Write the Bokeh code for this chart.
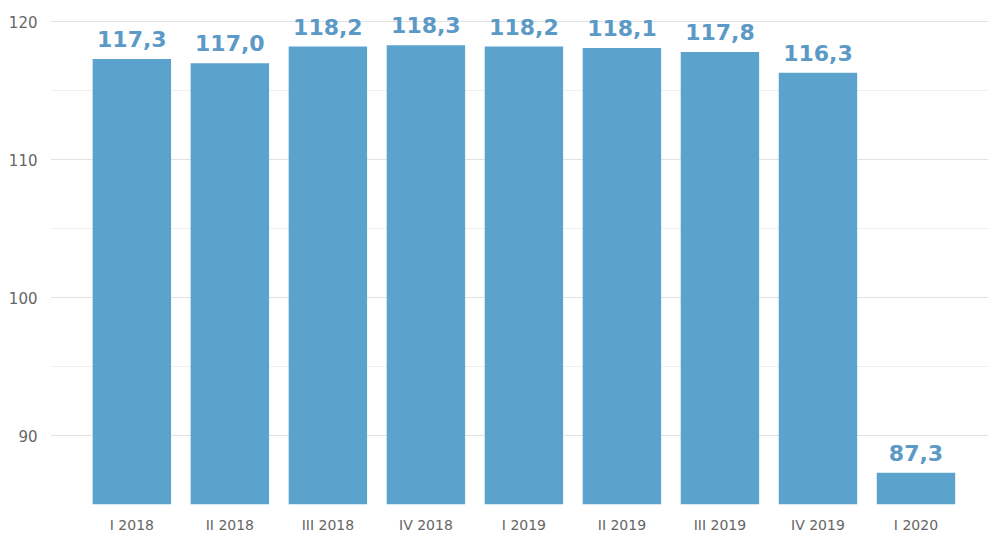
from bokeh.plotting import figure
from bokeh.models import ColumnDataSource, Range1d, FixedTicker, LabelSet
from bokeh.embed import file_html
from bokeh.resources import INLINE
from bokeh.core.properties import value

categories = ["I 2018", "II 2018", "III 2018", "IV 2018", "I 2019", "II 2019", "III 2019", "IV 2019", "I 2020"]
values = [117.3, 117.0, 118.2, 118.3, 118.2, 118.1, 117.8, 116.3, 87.3]
y_major_ticks = [90, 100, 110, 120]
y_minor_ticks = [85, 95, 105, 115]

xs = list(range(len(categories)))
labels = [f"{v:.1f}".replace(".", ",") for v in values]
src = ColumnDataSource(dict(x=xs, top=values, label=labels))

p = figure(width=988, height=535, output_backend="svg", toolbar_location=None,
           x_range=Range1d(-0.83, 8.74), y_range=Range1d(85, 120.6),
           min_border_left=50, min_border_right=0, min_border_top=13, min_border_bottom=31)
p.outline_line_color = None
p.background_fill_color = "white"
p.border_fill_color = "white"

p.xgrid.grid_line_color = None
p.yaxis.ticker = FixedTicker(ticks=y_major_ticks, minor_ticks=y_minor_ticks)
p.ygrid.grid_line_color = "#e2e2e2"
p.ygrid.minor_grid_line_color = "#efefef"

p.vbar(x="x", top="top", bottom=84, width=0.8, source=src, fill_color="#5ba3cc", line_color=None)

lbl = LabelSet(x="x", y="top", text="label", source=src, text_align="center", text_baseline="alphabetic",
               y_offset=12, text_font=value("DejaVu Sans"), text_font_style="bold",
               text_font_size="22px", text_color="#5b99c6")
p.add_layout(lbl)

p.xaxis.ticker = FixedTicker(ticks=xs)
p.xaxis.major_label_overrides = {i: c for i, c in enumerate(categories)}
for ax in (p.xaxis, p.yaxis):
    ax.axis_line_color = None
    ax.major_tick_line_color = None
    ax.minor_tick_line_color = None
    ax.major_label_text_color = "#666666"
    ax.major_label_text_font = "DejaVu Sans"
p.yaxis.major_label_text_font_size = "15px"
p.xaxis.major_label_text_font_size = "14px"
p.xaxis.major_label_standoff = 6
p.yaxis.major_label_standoff = 7

open("out.html", "w").write(file_html(p, INLINE))
